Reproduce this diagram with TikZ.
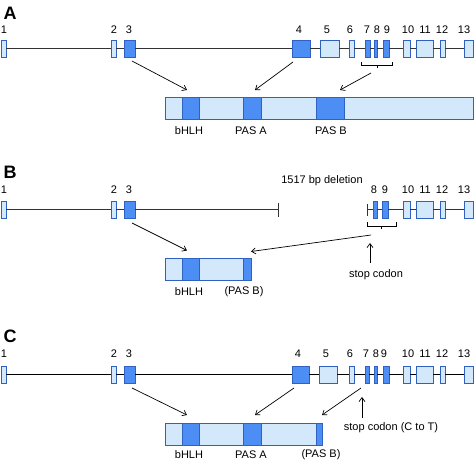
\documentclass[tikz,border=0pt]{standalone}
\usepackage{fontspec}
\setmainfont{Liberation Sans}
\usetikzlibrary{arrows.meta}
\definecolor{lb}{HTML}{D3E8FB}
\definecolor{db}{HTML}{4D8EF5}
\definecolor{eb}{HTML}{2F62C0}
\tikzset{
  exl/.style={rectangle, draw=eb, fill=lb, line width=0.7pt, inner sep=0pt, outer sep=0pt},
  exd/.style={exl, fill=db},
  lbl/.style={font=\fontsize{11}{13}\selectfont, inner sep=0pt},
  ttl/.style={font=\fontsize{18}{20}\selectfont\bfseries, inner sep=0pt},
  intron/.style={draw=black!80, line width=0.8pt},
  intronc/.style={draw=black, line width=1.2pt},
  brk/.style={draw=black, line width=0.8pt},
  arr/.style={-{Straight Barb[length=4pt,width=6pt]}, line width=0.7pt},
}
\newcommand\exon[5]{\node[#5, minimum width={#3-#2}, minimum height=17] (#1) at ({(#2+#3)/2},#4) {};}
\newcommand\dom[5]{\node[#5, minimum width={#3-#2}, minimum height=22] (#1) at ({(#2+#3)/2},#4) {};}
\newcommand\lab[4]{\node[lbl] (#1) at (#2,#3) {#4};}
\begin{document}
\begin{tikzpicture}[x=1pt,y=-1pt]
\useasboundingbox (0,0) rectangle (474,464);
% ================= A =================
\node[ttl] (tA) at (10,13) {A};
\exon{a1}{1}{6}{48.5}{exl}
\exon{a2}{111}{116}{48.5}{exl}
\exon{a3}{124}{135}{48.5}{exd}
\exon{a4}{292}{310}{48.5}{exd}
\exon{a5}{320}{339}{48.5}{exl}
\exon{a6}{349}{354}{48.5}{exl}
\exon{a7}{365}{370}{48.5}{exd}
\exon{a8}{374}{377}{48.5}{exd}
\exon{a9}{383}{389}{48.5}{exd}
\exon{a10}{403}{410}{48.5}{exl}
\exon{a11}{416}{433}{48.5}{exl}
\exon{a12}{440}{445}{48.5}{exl}
\exon{a13}{464}{473}{48.5}{exl}
\foreach \i [count=\j from 2] in {1,...,12} {\draw[intron] (a\i.east) -- (a\j.west);}
\lab{na1}{4}{30}{1}
\lab{na2}{114}{30}{2}
\lab{na3}{129}{30}{3}
\lab{na4}{299}{30}{4}
\lab{na5}{327}{30}{5}
\lab{na6}{350}{30}{6}
\lab{na7}{367}{30}{7}
\lab{na8}{377}{30}{8}
\lab{na9}{387}{30}{9}
\lab{na10}{408}{30}{10}
\lab{na11}{425}{30}{11}
\lab{na12}{442}{30}{12}
\lab{na13}{464}{30}{13}
\coordinate (braL) at (361,62);
\coordinate (braR) at (392,62);
\coordinate (braC) at (377,65);
\draw[brk] (braL) -- ++(0,3) -| (braR);
\draw[brk] (braC) -- ++(0,3);
% protein A
\dom{pA}{165}{473}{108}{exl}
\dom{hA}{182}{199}{108}{exd}
\dom{paA}{243}{261}{108}{exd}
\dom{pbA}{316}{344}{108}{exd}
\lab{lhA}{189}{131}{bHLH}
\lab{lpaA}{251}{131}{PAS A}
\lab{lpbA}{331}{131}{PAS B}
\draw[arr] ([shift={(2.5,4)}]a3.south) -- ([shift={(-3.5,-7)}]hA.north);
\draw[arr] ([shift={(-8,5)}]a4.south) -- ([shift={(3,-7)}]paA.north);
\draw[arr] ([shift={(-6,8)}]braC) -- ([shift={(10,-7)}]pbA.north);
% ================= B =================
\node[ttl] (tB) at (10,172) {B};
\exon{b1}{1}{6}{209.5}{exl}
\exon{b2}{111}{116}{209.5}{exl}
\exon{b3}{124}{135}{209.5}{exd}
\coordinate (bd1) at (278,209.5);
\coordinate (bd2) at (367,209.5);
\exon{b8}{373}{377}{209.5}{exd}
\exon{b9}{382}{388}{209.5}{exd}
\exon{b10}{403}{410}{209.5}{exl}
\exon{b11}{416}{433}{209.5}{exl}
\exon{b12}{440}{445}{209.5}{exl}
\exon{b13}{464}{473}{209.5}{exl}
\draw[intron] (b1.east) -- (b2.west);
\draw[intron] (b2.east) -- (b3.west);
\draw[intron] (b3.east) -- (bd1);
\draw[intron] ([yshift=7pt]bd1) -- ([yshift=-7pt]bd1);
\draw[intron] ([yshift=6pt]bd2) -- ([yshift=-6pt]bd2);
\draw[intron] (bd2) -- (b8.west);
\draw[intron] (b8.east) -- (b9.west);
\foreach \i [count=\j from 10] in {9,...,12} {\draw[intron] (b\i.east) -- (b\j.west);}
\lab{nb1}{4}{190}{1}
\lab{nb2}{114}{190}{2}
\lab{nb3}{129}{190}{3}
\lab{ndel}{322}{181}{1517 bp deletion}
\lab{nb8}{374}{190}{8}
\lab{nb9}{385}{190}{9}
\lab{nb10}{408}{190}{10}
\lab{nb11}{425}{190}{11}
\lab{nb12}{442}{190}{12}
\lab{nb13}{464}{190}{13}
\coordinate (brbL) at (367,222);
\coordinate (brbR) at (396,222);
\coordinate (brbC) at (381,226);
\draw[brk] (brbL) -- ++(0,4) -| (brbR);
\draw[brk] (brbC) -- ++(0,3);
% protein B
\dom{pB}{165}{251}{269.5}{exl}
\dom{hB}{182}{199}{269.5}{exd}
\dom{eB}{243}{251}{269.5}{exd}
\lab{lhB}{189}{292}{bHLH}
\lab{lpbB}{244}{292}{(PAS B)}
\lab{stB}{376}{275}{stop codon}
\coordinate (stBs) at (370,263);
\coordinate (stBe) at (370,243);
\draw[arr] ([shift={(2.5,5)}]b3.south) -- ([shift={(-3.5,-8)}]hB.north);
\draw[arr] ([shift={(-10,9)}]brbC) -- ([shift={(0,-7)}]pB.north east);
\draw[arr] (stBs) -- (stBe);
% ================= C =================
\node[ttl] (tC) at (10,336) {C};
\exon{c1}{1}{6}{374.5}{exl}
\exon{c2}{111}{116}{374.5}{exl}
\exon{c3}{124}{135}{374.5}{exd}
\exon{c4}{292}{309}{374.5}{exd}
\exon{c5}{319}{337}{374.5}{exl}
\exon{c6}{349}{354}{374.5}{exl}
\exon{c7}{365}{369}{374.5}{exd}
\exon{c8}{374}{377}{374.5}{exd}
\exon{c9}{383}{389}{374.5}{exd}
\exon{c10}{403}{410}{374.5}{exl}
\exon{c11}{416}{433}{374.5}{exl}
\exon{c12}{440}{445}{374.5}{exl}
\exon{c13}{464}{473}{374.5}{exl}
\foreach \i [count=\j from 2] in {1,...,12} {\draw[intronc] (c\i.east) -- (c\j.west);}
\lab{nc1}{4}{354}{1}
\lab{nc2}{114}{354}{2}
\lab{nc3}{129}{354}{3}
\lab{nc4}{298}{354}{4}
\lab{nc5}{326}{354}{5}
\lab{nc6}{350}{354}{6}
\lab{nc7}{366}{354}{7}
\lab{nc8}{376}{354}{8}
\lab{nc9}{384}{354}{9}
\lab{nc10}{408}{354}{10}
\lab{nc11}{425}{354}{11}
\lab{nc12}{442}{354}{12}
\lab{nc13}{464}{354}{13}
% protein C
\dom{pC}{165}{322}{434}{exl}
\dom{hC}{182}{199}{434}{exd}
\dom{paC}{243}{261}{434}{exd}
\dom{eC}{316}{322}{434}{exd}
\lab{lhC}{189}{455}{bHLH}
\lab{lpaC}{251}{455}{PAS A}
\lab{lpbC}{321}{455}{(PAS B)}
\lab{stC}{391}{428}{stop codon (C to T)}
\coordinate (stCs) at (362,418);
\coordinate (stCe) at (362,397);
\draw[arr] ([shift={(2.5,5)}]c3.south) -- ([shift={(-3.5,-8)}]hC.north);
\draw[arr] ([shift={(-6.5,5)}]c4.south) -- ([shift={(3,-8)}]paC.north);
\draw[arr] ([shift={(-6,5)}]c7.south) -- ([shift={(0,-8)}]pC.north east);
\draw[arr] (stCs) -- (stCe);
\end{tikzpicture}
\end{document}
